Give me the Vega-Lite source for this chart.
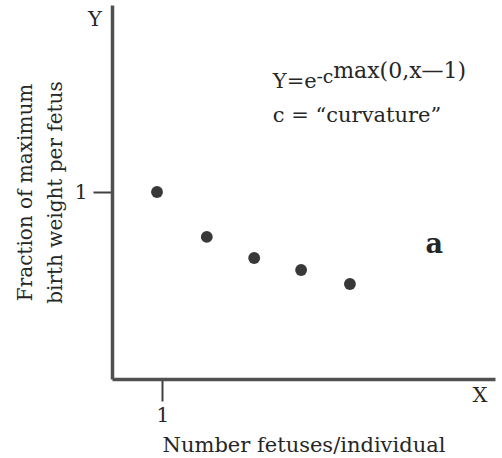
{
  "$schema": "https://vega.github.io/schema/vega-lite/v6.json",
  "width": 383,
  "height": 374,
  "autosize": {"type": "none"},
  "padding": {"left": 112, "top": 5, "right": 7, "bottom": 79},
  "background": "white",
  "config": {
    "view": {"stroke": null},
    "font": "DejaVu Serif",
    "text": {"font": "DejaVu Serif", "color": "#262626"}
  },
  "layer": [
    {
      "data": {"values": [
        {"x": 0.89, "y": 1.0},
        {"x": 1.93, "y": 0.76},
        {"x": 2.92, "y": 0.647},
        {"x": 3.90, "y": 0.583},
        {"x": 4.92, "y": 0.508}
      ]},
      "mark": {"type": "circle", "size": 140, "color": "#383838", "opacity": 1},
      "encoding": {
        "x": {
          "field": "x", "type": "quantitative",
          "scale": {"domain": [-0.05, 7.95], "nice": false, "zero": false},
          "axis": {
            "values": [1], "grid": false, "format": "d",
            "title": "Number fetuses/individual",
            "domainColor": "#505050", "domainWidth": 3.5,
            "tickColor": "#404040", "tickWidth": 2, "tickSize": 22,
            "labelFont": "DejaVu Serif", "labelFontSize": 20, "labelColor": "#262626",
            "labelPadding": 4,
            "titleFont": "DejaVu Serif", "titleFontSize": 21, "titleFontWeight": "normal",
            "titleColor": "#262626", "titlePadding": 9
          }
        },
        "y": {
          "field": "y", "type": "quantitative",
          "scale": {"domain": [0, 2], "nice": false},
          "axis": {
            "values": [1], "grid": false, "format": "d",
            "title": ["Fraction of maximum", "birth weight per fetus"],
            "domainColor": "#505050", "domainWidth": 3.5,
            "tickColor": "#404040", "tickWidth": 2, "tickSize": 19,
            "labelFont": "DejaVu Serif", "labelFontSize": 20, "labelColor": "#262626",
            "labelPadding": 6,
            "titleFont": "DejaVu Serif", "titleFontSize": 20, "titleFontWeight": "normal",
            "titleColor": "#262626", "titlePadding": 9, "titleLineHeight": 30
          }
        }
      }
    },
    {
      "data": {"values": [{"x": 3.31, "y": 1.556, "t": "Y=e"}, {"x": 3.31, "y": 1.374, "t": "c = \u201ccurvature\u201d"}]},
      "mark": {"type": "text", "align": "left", "baseline": "alphabetic", "fontSize": 21, "clip": false},
      "encoding": {"x": {"field": "x", "type": "quantitative"}, "y": {"field": "y", "type": "quantitative"}, "text": {"field": "t"}}
    },
    {
      "data": {"values": [{"x": 4.22, "y": 1.583, "t": "-c"}]},
      "mark": {"type": "text", "align": "left", "baseline": "alphabetic", "fontSize": 19},
      "encoding": {"x": {"field": "x", "type": "quantitative"}, "y": {"field": "y", "type": "quantitative"}, "text": {"field": "t"}}
    },
    {
      "data": {"values": [{"x": 4.57, "y": 1.61, "t": "max(0,x\u20141)"}]},
      "mark": {"type": "text", "align": "left", "baseline": "alphabetic", "fontSize": 22},
      "encoding": {"x": {"field": "x", "type": "quantitative"}, "y": {"field": "y", "type": "quantitative"}, "text": {"field": "t"}}
    },
    {
      "data": {"values": [{"x": 6.68, "y": 0.674, "t": "a"}]},
      "mark": {"type": "text", "align": "center", "baseline": "alphabetic", "fontSize": 27, "fontWeight": "bold"},
      "encoding": {"x": {"field": "x", "type": "quantitative"}, "y": {"field": "y", "type": "quantitative"}, "text": {"field": "t"}}
    },
    {
      "data": {"values": [{"x": -0.405, "y": 1.888, "t": "Y"}, {"x": 7.637, "y": -0.123, "t": "X"}]},
      "mark": {"type": "text", "align": "center", "baseline": "alphabetic", "fontSize": 21, "clip": false},
      "encoding": {"x": {"field": "x", "type": "quantitative"}, "y": {"field": "y", "type": "quantitative"}, "text": {"field": "t"}}
    }
  ]
}
